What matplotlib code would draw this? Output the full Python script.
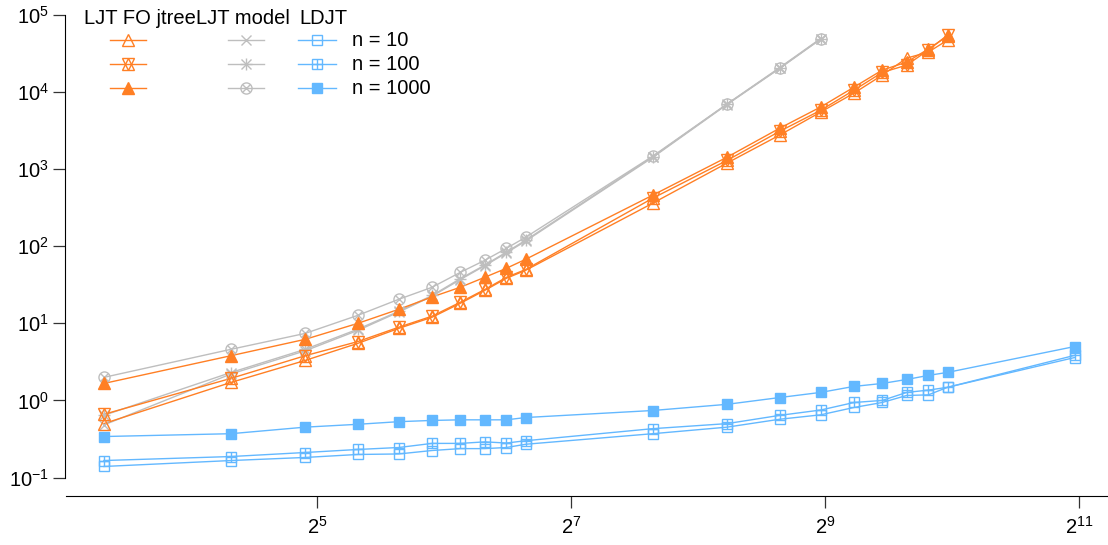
import matplotlib
matplotlib.use("Agg")
import matplotlib.pyplot as plt
from matplotlib.lines import Line2D
from matplotlib.ticker import FixedLocator, NullLocator

plt.rcParams['font.family'] = ['Liberation Sans', 'DejaVu Sans']
plt.rcParams['mathtext.fontset'] = 'custom'
plt.rcParams['mathtext.rm'] = 'Liberation Sans'
plt.rcParams['mathtext.it'] = 'Liberation Sans'
plt.rcParams['mathtext.default'] = 'regular'

# domain sizes
x_ljt = [10, 20, 30, 40, 50, 60, 70, 80, 90, 100, 200, 300, 400, 500, 600, 700, 800, 900, 1000]
x_model = [10, 20, 30, 40, 50, 60, 70, 80, 90, 100, 200, 300, 400, 500]
x_ldjt = [10, 20, 30, 40, 50, 60, 70, 80, 90, 100, 200, 300, 400, 500, 600, 700, 800, 900, 1000, 2000]

# LJT FO jtree
ljt_n10 = [0.50, 1.71, 3.3, 5.5, 8.6, 12, 18.2, 26.8, 38.4, 48.8, 362, 1200, 2770, 5500, 9700, 16600, 27600, 33000, 47300]
ljt_n100 = [0.66, 1.93, 3.8, 5.8, 8.9, 12.4, 18.8, 27.5, 39.5, 50, 420, 1300, 3100, 5800, 10600, 18000, 22400, 35000, 55000]
ljt_n1000 = [1.66, 3.8, 6.2, 10, 15.2, 22, 29.4, 39.6, 51.8, 67.8, 460, 1430, 3400, 6400, 11600, 19300, 24500, 36200, 53400]

# LJT model
model_n10 = [0.48, 2.2, 4.4, 8.1, 14, 22.5, 37, 56, 82, 117, 1420, 6900, 20300, 48500]
model_n100 = [0.64, 2.3, 4.6, 8.4, 14.3, 23, 38, 57, 84, 120, 1450, 7000, 20800, 49500]
model_n1000 = [1.99, 4.6, 7.4, 12.7, 20.5, 29.4, 45.9, 65.8, 94, 131, 1475, 6985, 20500, 48800]

# LDJT
ldjt_n10 = [0.139, 0.166, 0.182, 0.199, 0.202, 0.224, 0.237, 0.237, 0.245, 0.27, 0.37, 0.45, 0.57, 0.65, 0.81, 0.94, 1.16, 1.18, 1.48, 3.6]
ldjt_n100 = [0.166, 0.187, 0.211, 0.231, 0.245, 0.277, 0.277, 0.29, 0.28, 0.30, 0.43, 0.50, 0.64, 0.75, 0.94, 1.0, 1.27, 1.36, 1.48, 3.84]
ldjt_n1000 = [0.34, 0.37, 0.45, 0.49, 0.53, 0.55, 0.56, 0.56, 0.56, 0.60, 0.74, 0.89, 1.09, 1.27, 1.52, 1.66, 1.87, 2.11, 2.31, 5.0]

orange = '#FF7F24'
grey = '#BEBEBE'
blue = '#63B8FF'

# R-like pch symbols built from overlaid matplotlib markers
pch = {
    2: [('^', 8, False)],
    11: [('^', 8, False), ('v', 8, False)],
    17: [('^', 8, True)],
    4: [('x', 6.5, False)],
    8: [('x', 6.5, False), ('+', 8.5, False)],
    13: [('o', 8, False), ('x', 5.6, False)],
    0: [('s', 6.7, False)],
    12: [('s', 6.7, False), ('+', 6.7, False)],
    15: [('s', 6.7, True)],
}

W, H = 1108, 545
fig = plt.figure(figsize=(W / 100, H / 100), dpi=100)
ax = fig.add_axes([66 / W, 49 / H, (W - 66) / W, 496 / H])


def draw(x, y, color, p):
    ax.plot(x, y, color=color, lw=1.0, zorder=2)
    for m, ms, filled in pch[p]:
        ax.plot(x, y, ls='none', marker=m, ms=ms, mew=1.0, color=color,
                mfc=color if filled else 'none', zorder=3)


draw(x_model, model_n10, grey, 4)
draw(x_model, model_n100, grey, 8)
draw(x_model, model_n1000, grey, 13)
draw(x_ljt, ljt_n10, orange, 2)
draw(x_ljt, ljt_n100, orange, 11)
draw(x_ljt, ljt_n1000, orange, 17)
draw(x_ldjt, ldjt_n10, blue, 0)
draw(x_ldjt, ldjt_n100, blue, 12)
draw(x_ldjt, ldjt_n1000, blue, 15)

ax.set_xscale('log', base=2)
ax.set_yscale('log')
ax.set_xlim(2 ** 3.024, 2 ** 11.229)
ax.set_ylim(10 ** -1.24, 10 ** 5.195)

ax.xaxis.set_major_locator(FixedLocator([2 ** 5, 2 ** 7, 2 ** 9, 2 ** 11]))
ax.set_xticklabels(['$2^{5}$', '$2^{7}$', '$2^{9}$', '$2^{11}$'])
ax.yaxis.set_major_locator(FixedLocator([10.0 ** k for k in range(-1, 6)]))
ax.set_yticklabels(['$10^{%d}$' % k for k in range(-1, 6)])
ax.xaxis.set_minor_locator(NullLocator())
ax.yaxis.set_minor_locator(NullLocator())

for s in ['top', 'right']:
    ax.spines[s].set_visible(False)
ax.spines['left'].set_bounds(0.1, 1e5)
ax.spines['left'].set_position(('outward', 1))
ax.tick_params(axis='both', length=8.5, width=0.9, labelsize=14.5, color='#333333')
ax.tick_params(axis='x', pad=6)
ax.tick_params(axis='y', pad=3)
ax.patch.set_visible(False)

# legend in three columns, drawn by hand like R's legend()
def fx(px):
    return px / W


def fy(py):
    return 1 - py / H


titles = [('LJT FO jtree', 140), ('LJT model', 243), ('LDJT', 323)]
for t, cx in titles:
    fig.text(fx(cx), fy(18), t, ha='center', va='center', fontsize=14.5)

rows = [40, 64, 88]
groups = [
    (orange, [2, 11, 17], 110, 146),
    (grey, [4, 8, 13], 228, 264),
    (blue, [0, 12, 15], 298, 336),
]
for color, codes, x0, x1 in groups:
    for py, p in zip(rows, codes):
        fig.add_artist(Line2D([fx(x0), fx(x1)], [fy(py), fy(py)], color=color, lw=1.0))
        for m, ms, filled in pch[p]:
            fig.add_artist(Line2D([fx((x0 + x1) / 2)], [fy(py)], ls='none', marker=m, ms=ms,
                                  mew=1.0, color=color, mfc=color if filled else 'none'))

for py, lab in zip(rows, ['n = 10', 'n = 100', 'n = 1000']):
    fig.text(fx(352), fy(py), lab, ha='left', va='center', fontsize=14.5)

fig.savefig('out.png', dpi=100)
